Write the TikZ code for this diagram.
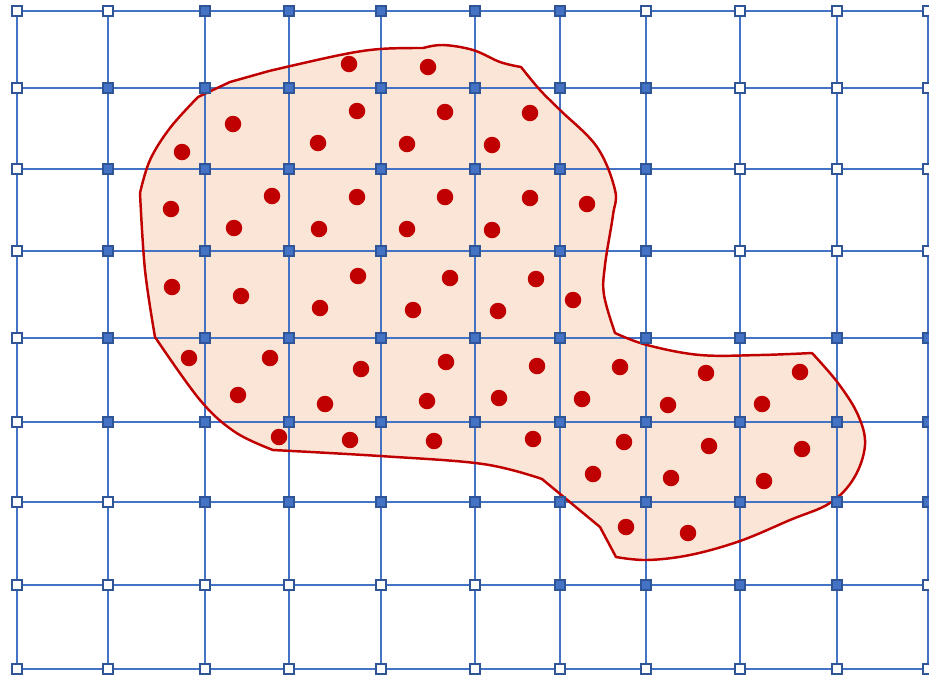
\documentclass[tikz,border=0pt]{standalone}
\usepackage{tikz}
\usetikzlibrary{calc}
\definecolor{gridblue}{HTML}{4472C4}
\definecolor{edgeblue}{HTML}{2F5597}
\definecolor{blobred}{HTML}{C00000}
\definecolor{blobfill}{HTML}{FBE5D6}
% outline of the region (pixel units, y downwards)
\def\blobpath{plot[smooth,tension=.6] coordinates {(423,48) (443,45) (473,50) (500,62) (521,67)}
  -- plot[smooth,tension=.6] coordinates {(521,67) (540,90) (560,110) (597,147) (615,190) (613,215) (605,265) (604,295) (615,333)}
  -- plot[smooth,tension=.6] coordinates {(615,333) (647,345) (700,355) (760,355) (812,353)}
  -- plot[smooth,tension=.6] coordinates {(812,353) (838,383) (858,415) (865,445) (854,478) (830,503) (790,520) (740,541) (690,555) (647,560) (616,557)}
  -- (600,527) -- (542,479)
  -- plot[smooth,tension=.6] coordinates {(542,479) (483,464) (380,456) (273,450)}
  -- plot[smooth,tension=.6] coordinates {(273,450) (235,432) (200,400) (155,337)}
  -- plot[smooth,tension=.6] coordinates {(155,337) (145,270) (140,193)}
  -- plot[smooth,tension=.6] coordinates {(140,193) (150,160) (170,128) (198,97)}
  -- (230,82) -- (269,71)
  -- plot[smooth,tension=.6] coordinates {(269,71) (340,55) (380,49) (423,48)} -- cycle}

\begin{document}
\begin{tikzpicture}[x=0.02cm,y=-0.02cm,
  gridline/.style={gridblue,line width=.75pt},
  covered/.style={rectangle,fill=gridblue,draw=edgeblue,line width=1.3pt,inner sep=0pt,minimum size=0.21cm},
  uncovered/.style={rectangle,fill=white,draw=edgeblue,line width=.7pt,inner sep=0pt,minimum size=0.2cm},
  spot/.style={circle,fill=blobred,inner sep=0pt,minimum size=0.33cm}]
\useasboundingbox (0,0) rectangle (929,677);
% lattice points
\foreach \y [count=\r from 0] in {11,88,169,251,338,422,502,585,669}
  \foreach \x [count=\c from 0] in {17,108,205,289,381,475,560,646,740,837,928}
    \coordinate (p-\r-\c) at (\x,\y);
% region fill
\fill[blobfill] \blobpath;
% grid lines
\foreach \r in {0,...,8} \draw[gridline] (p-\r-0) -- (p-\r-10);
\foreach \c in {0,...,10} \draw[gridline] (p-0-\c) -- (p-8-\c);
% region outline
\draw[blobred,line width=1.4pt,line join=round] \blobpath;
% lattice nodes: columns first..last of each row are covered
\foreach \r/\a/\b in {0/2/6,1/1/7,2/1/7,3/1/7,4/1/10,5/1/10,6/2/10,7/6/9,8/11/-1}
  \foreach \c in {0,...,10}{
    \ifnum\c<\a \def\kind{uncovered}\else\ifnum\c>\b \def\kind{uncovered}\else\def\kind{covered}\fi\fi
    \node[\kind] (g-\r-\c) at (p-\r-\c) {};
  }
% sample points
\foreach \x/\y [count=\k] in {349/64,428/67,
  233/124,357/111,445/112,530/113,182/152,318/143,407/144,492/145,
  171/209,272/196,357/197,445/197,530/198,587/204,234/228,319/229,407/229,492/230,
  172/287,241/296,358/276,450/278,536/279,573/300,320/308,413/310,498/311,
  189/358,270/358,361/369,446/362,537/366,620/367,706/373,800/372,
  238/395,325/404,427/401,499/398,582/399,668/405,762/404,
  279/437,350/440,434/441,533/439,624/442,709/446,802/449,
  593/474,671/478,764/481,626/527,688/533}
  \node[spot] (s\k) at (\x,\y) {};
\end{tikzpicture}
\end{document}
